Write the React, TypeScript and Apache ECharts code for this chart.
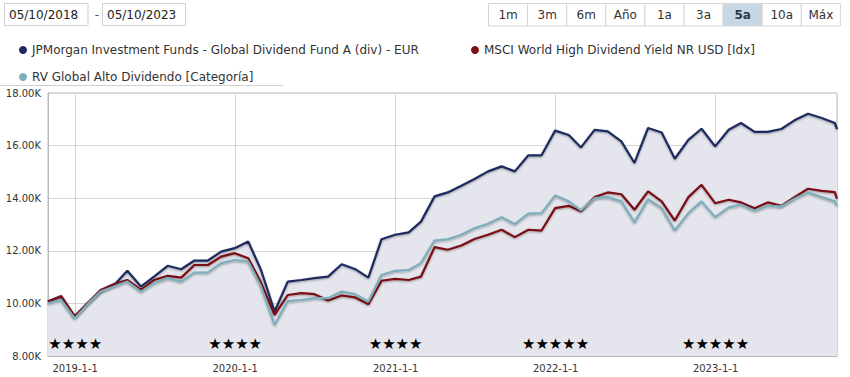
import React, { useEffect, useRef } from "react";
import * as echarts from "echarts";

const dates = [
  "2018-10-31", "2018-11-30", "2018-12-31",
  "2019-01-31", "2019-02-28", "2019-03-31", "2019-04-30", "2019-05-31", "2019-06-30",
  "2019-07-31", "2019-08-31", "2019-09-30", "2019-10-31", "2019-11-30", "2019-12-31",
  "2020-01-31", "2020-02-29", "2020-03-31", "2020-04-30", "2020-05-31", "2020-06-30",
  "2020-07-31", "2020-08-31", "2020-09-30", "2020-10-31", "2020-11-30", "2020-12-31",
  "2021-01-31", "2021-02-28", "2021-03-31", "2021-04-30", "2021-05-31", "2021-06-30",
  "2021-07-31", "2021-08-31", "2021-09-30", "2021-10-31", "2021-11-30", "2021-12-31",
  "2022-01-31", "2022-02-28", "2022-03-31", "2022-04-30", "2022-05-31", "2022-06-30",
  "2022-07-31", "2022-08-31", "2022-09-30", "2022-10-31", "2022-11-30", "2022-12-31",
  "2023-01-31", "2023-02-28", "2023-03-31", "2023-04-30", "2023-05-31", "2023-06-30",
  "2023-07-31", "2023-08-31", "2023-09-30", "2023-10-05",
];

const jpmValues = [
  10070, 10260, 9470,
  10030, 10450, 10700, 11240, 10640, 11020, 11430, 11300, 11630, 11630, 11970, 12100,
  12350, 11270, 9690, 10830, 10890, 10960, 11020, 11490, 11310, 10980, 12440, 12610,
  12700, 13110, 14070, 14220, 14470, 14730, 15020, 15210, 15020, 15630, 15630, 16570,
  16400, 15930, 16600, 16540, 16160, 15340, 16670, 16500, 15500, 16220, 16640, 15970,
  16600, 16860, 16520, 16520, 16630, 16960, 17210, 17050, 16860, 16630,
];

const msciValues = [
  10070, 10280, 9520,
  10030, 10510, 10740, 10890, 10510, 10890, 11050, 10980, 11460, 11460, 11780, 11910,
  11720, 10790, 9560, 10320, 10390, 10350, 10110, 10300, 10230, 9970, 10860, 10930,
  10890, 11020, 12140, 12040, 12200, 12450, 12610, 12800, 12520, 12800, 12770, 13620,
  13710, 13500, 14040, 14220, 14150, 13560, 14260, 13880, 13150, 14040, 14510, 13810,
  13940, 13840, 13620, 13840, 13710, 14040, 14360, 14280, 14230, 13980,
];

const rvValues = [
  10000, 10130, 9430,
  10000, 10450, 10640, 10830, 10450, 10770, 10960, 10830, 11170, 11180, 11530, 11650,
  11590, 10640, 9180, 10090, 10130, 10200, 10200, 10450, 10350, 10070, 11080, 11240,
  11270, 11530, 12390, 12440, 12610, 12860, 13030, 13280, 13010, 13410, 13430, 14100,
  13880, 13540, 14000, 14040, 13880, 13080, 13960, 13620, 12770, 13430, 13880, 13280,
  13650, 13750, 13520, 13710, 13690, 13980, 14220, 14040, 13880, 13710,
];

const seriesNames = [
  "JPMorgan Investment Funds - Global Dividend Fund A (div) - EUR",
  "MSCI World High Dividend Yield NR USD [Idx]",
  "RV Global Alto Dividendo [Categoría]",
];

const ratingDates = ["2019-01-01", "2020-01-01", "2021-01-01", "2022-01-01", "2023-01-01"];
const ratingStars = [4, 4, 4, 5, 5];

const rangeButtons = ["1m", "3m", "6m", "Año", "1a", "3a", "5a", "10a", "Máx"];
const selectedButton = "5a";
const dateFrom = "05/10/2018";
const dateTo = "05/10/2023";

const FONT = "DejaVu Sans";
const NAVY = "#1d2b5e";
const RED = "#7a1015";
const LIGHT = "#7eadbb";

export default function App() {
  const ref = useRef<HTMLDivElement>(null);

  useEffect(() => {
    if (!ref.current) return;
    const chart = echarts.init(ref.current, null, { renderer: "svg" });

    const pair = (vals: number[]) => dates.map((d, i) => [d, vals[i]]);
    const lineShadow = {
      shadowColor: "rgba(0,0,0,0.35)",
      shadowBlur: 2,
      shadowOffsetY: 1,
    };

    const btnStart = 488;
    const btnW = 39.1;
    const graphics: any[] = [
      { type: "rect", shape: { x: 4.5, y: 3.5, width: 83.5, height: 22 }, style: { fill: "#fff", stroke: "#cfcfcf", lineWidth: 1 } },
      { type: "text", x: 9, y: 15, style: { text: dateFrom, font: `12px "${FONT}"`, fill: "#222", verticalAlign: "middle" } },
      { type: "text", x: 97, y: 15, style: { text: "-", font: `12px "${FONT}"`, fill: "#555", align: "center", verticalAlign: "middle" } },
      { type: "rect", shape: { x: 102.5, y: 3.5, width: 83, height: 22 }, style: { fill: "#fff", stroke: "#cfcfcf", lineWidth: 1 } },
      { type: "text", x: 107, y: 15, style: { text: dateTo, font: `12px "${FONT}"`, fill: "#222", verticalAlign: "middle" } },
      { type: "line", shape: { x1: 0, y1: 85.5, x2: 283, y2: 85.5 }, style: { stroke: "#d0d0d0", lineWidth: 1 } },
    ];
    rangeButtons.forEach((label, i) => {
      const sel = label === selectedButton;
      const x = btnStart + i * btnW;
      graphics.push({
        type: "rect",
        shape: { x: x + 0.5, y: 3.5, width: btnW, height: 22.5 },
        style: { fill: sel ? "#c8d7e4" : "#fff", stroke: "#d6d6d6", lineWidth: 1 },
      });
      graphics.push({
        type: "text",
        x: x + btnW / 2 + 0.5,
        y: 15,
        style: {
          text: label,
          font: `${sel ? "bold " : ""}12px "${FONT}"`,
          fill: sel ? "#2a3a4a" : "#333",
          align: "center",
          verticalAlign: "middle",
        },
      });
    });

    const legendBase = {
      icon: "circle",
      itemWidth: 8,
      itemHeight: 8,
      itemGap: 5,
      textStyle: { fontFamily: FONT, fontSize: 12, color: "#333", lineHeight: 14 },
      selectedMode: false,
    };

    chart.setOption({
      animation: false,
      backgroundColor: "#fff",
      textStyle: { fontFamily: FONT },
      graphic: graphics,
      legend: [
        { ...legendBase, left: 14, top: 38, data: [seriesNames[0]] },
        { ...legendBase, left: 466, top: 38, data: [seriesNames[1]] },
        { ...legendBase, left: 14, top: 65, data: [seriesNames[2]] },
      ],
      grid: {
        left: 48,
        right: 13,
        top: 93,
        bottom: 21,
        show: true,
        borderColor: "#b8b8b8",
        borderWidth: 1,
        backgroundColor: "#fff",
      },
      xAxis: {
        type: "time",
        min: "2018-10-31",
        max: "2023-10-05",
        minInterval: 365 * 86400000,
        maxInterval: 366 * 86400000,
        axisLine: { show: true, lineStyle: { color: "#b8b8b8" } },
        axisTick: { show: false },
        splitLine: { show: true, lineStyle: { color: "#d4d4d4", width: 1 } },
        axisLabel: {
          fontFamily: FONT,
          fontSize: 10,
          color: "#333",
          margin: 7,
          showMinLabel: false,
          showMaxLabel: false,
          formatter: (v: number) => {
            const d = new Date(v);
            return `${d.getFullYear()}-${d.getMonth() + 1}-${d.getDate()}`;
          },
        },
      },
      yAxis: {
        type: "value",
        min: 8000,
        max: 18000,
        interval: 2000,
        axisLine: { show: true, lineStyle: { color: "#b8b8b8" } },
        axisTick: { show: false },
        splitLine: { show: true, lineStyle: { color: "#d6d6d6", width: 1 } },
        axisLabel: {
          fontFamily: FONT,
          fontSize: 10,
          color: "#333",
          margin: 7,
          formatter: (v: number) => (v / 1000).toFixed(2) + "K",
        },
      },
      series: [
        {
          name: seriesNames[0],
          type: "line",
          data: pair(jpmValues),
          symbol: "none",
          color: NAVY,
          lineStyle: { width: 2.2, color: NAVY, ...lineShadow },
          areaStyle: { color: "#e5e6ed", opacity: 1, origin: "start" },
          z: 2,
        },
        {
          name: seriesNames[1],
          type: "line",
          data: pair(msciValues),
          symbol: "none",
          color: RED,
          lineStyle: { width: 2.2, color: RED, ...lineShadow },
          z: 3,
        },
        {
          name: seriesNames[2],
          type: "line",
          data: pair(rvValues),
          symbol: "none",
          color: LIGHT,
          lineStyle: { width: 2.2, color: LIGHT, ...lineShadow },
          z: 4,
        },
        {
          name: "rating",
          type: "scatter",
          symbol: "circle",
          symbolSize: 2,
          itemStyle: { color: "rgba(0,0,0,0)" },
          silent: true,
          z: 5,
          data: ratingDates.map((d, i) => ({
            value: [d, 8460],
            label: {
              show: true,
              position: "inside",
              formatter: "★".repeat(ratingStars[i]),
              fontFamily: FONT,
              fontSize: 15,
              color: "#000",
              opacity: 1,
              textBorderWidth: 0,
            },
          })),
        },
      ],
    });

    return () => chart.dispose();
  }, []);

  return (
    <div
      ref={ref}
      style={{ position: "fixed", left: 0, top: 0, width: 850, height: 377 }}
    />
  );
}
